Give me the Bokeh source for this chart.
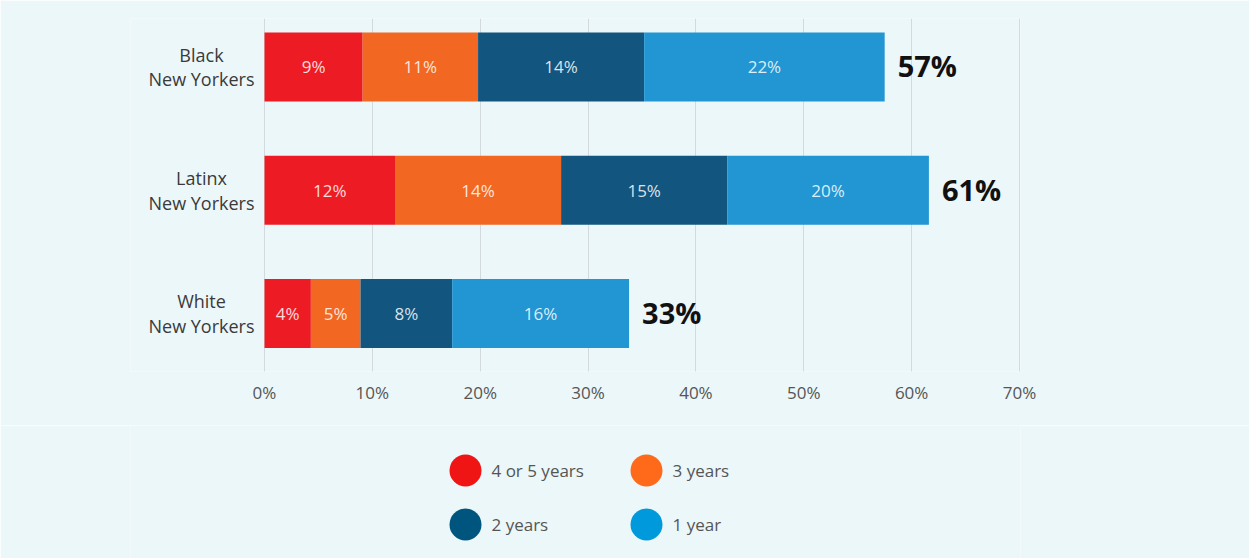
import numpy as np
from bokeh.plotting import figure
from bokeh.layouts import column
from bokeh.models import ColumnDataSource, LabelSet, Range1d, FixedTicker
from bokeh.core.properties import value
from bokeh.embed import file_html
from bokeh.resources import INLINE

# ---------------- data ----------------
groups = ["Black\nNew Yorkers", "Latinx\nNew Yorkers", "White\nNew Yorkers"]
series = ["4 or 5 years", "3 years", "2 years", "1 year"]
four_or_five_years = [9.1, 12.1, 4.3]
three_years = [10.7, 15.4, 4.6]
two_years = [15.4, 15.4, 8.5]
one_year = [22.3, 18.7, 16.4]
labels_four_or_five = ["9%", "12%", "4%"]
labels_three = ["11%", "14%", "5%"]
labels_two = ["14%", "15%", "8%"]
labels_one = ["22%", "20%", "16%"]
totals = ["57%", "61%", "33%"]
x_ticks = [0, 10, 20, 30, 40, 50, 60, 70]
x_tick_labels = ["0%", "10%", "20%", "30%", "40%", "50%", "60%", "70%"]

bar_colors = ["#ED1C24", "#F26722", "#12567F", "#2196D3"]
legend_colors = ["#F01515", "#FF6A1A", "#00557F", "#0099DC"]
BG = "#ECF7F9"
FONT = "Open Sans"

# ---------------- main chart ----------------
n = len(groups)
ypos = [n - 1 - i for i in range(n)]
keys = ["s0", "s1", "s2", "s3"]
vals = [four_or_five_years, three_years, two_years, one_year]
src = ColumnDataSource(dict(y=ypos, s0=vals[0], s1=vals[1], s2=vals[2], s3=vals[3]))

PX = 755 / 70.0          # pixels per percentage point
LEFT, RIGHT = 130, 229   # borders; frame includes room for category labels
x0 = -(264 - LEFT) / PX
x1 = x0 + (1249 - LEFT - RIGHT) / PX

p = figure(width=1249, height=425, output_backend="svg", toolbar_location=None,
           x_range=Range1d(x0, x1), y_range=Range1d(-0.4706, 2.393),
           min_border_left=LEFT, min_border_right=RIGHT, min_border_top=18, min_border_bottom=54)
p.background_fill_color = BG
p.border_fill_color = BG
p.outline_line_color = None

p.hbar_stack(keys, y="y", height=0.56, color=bar_colors, source=src, line_width=0)

# segment labels
arr = np.array(vals)  # series x groups
cum = np.cumsum(arr, axis=0)
centers = cum - arr / 2.0
seg_text = [labels_four_or_five, labels_three, labels_two, labels_one]
sx, sy, st = [], [], []
for s in range(len(series)):
    for g in range(n):
        sx.append(float(centers[s, g]))
        sy.append(ypos[g])
        st.append(seg_text[s][g])
p.add_layout(LabelSet(x="x", y="y", text="t", source=ColumnDataSource(dict(x=sx, y=sy, t=st)),
                      text_align="center", text_baseline="middle", text_color="white",
                      text_alpha=0.85, text_font=value(FONT), text_font_size="17px"))

# totals
tot_src = ColumnDataSource(dict(x=[float(v) for v in cum[-1]], y=ypos, t=totals))
p.add_layout(LabelSet(x="x", y="y", text="t", source=tot_src, x_offset=13, y_offset=1,
                      text_align="left", text_baseline="middle", text_color="#111111",
                      text_font=value(FONT), text_font_style="bold", text_font_size="29px"))

# category labels (centered two-line labels left of the bars)
cat_src = ColumnDataSource(dict(x=[0] * n, y=ypos, t=groups))
p.text(x="x", y="y", text="t", source=cat_src, x_offset=-63, text_align="center",
       text_baseline="middle", text_color="#3A3A3A", text_line_height=1.03,
       text_font=value(FONT), text_font_size="18px")

p.yaxis.visible = False
p.ygrid.grid_line_color = None

p.xaxis.ticker = FixedTicker(ticks=x_ticks)
p.xaxis.major_label_overrides = {t: l for t, l in zip(x_ticks, x_tick_labels)}
p.xaxis.axis_line_color = None
p.xaxis.major_tick_line_color = None
p.xaxis.minor_tick_line_color = None
p.xaxis.major_tick_out = 0
p.xaxis.major_tick_in = 0
p.xaxis.major_label_standoff = 9
p.xaxis.major_label_text_font = FONT
p.xaxis.major_label_text_font_size = "17px"
p.xaxis.major_label_text_color = "#555555"
p.xgrid.ticker = FixedTicker(ticks=x_ticks)
p.xgrid.grid_line_color = "#D3DADD"
p.xgrid.grid_line_width = 1

# ---------------- legend ----------------
lcol = [0, 1, 0, 1]
lrow = [1, 1, 0, 0]
leg_src = ColumnDataSource(dict(x=lcol, y=lrow, c=legend_colors, t=series))
COLW = 181.0
lx0 = -(465 - LEFT) / COLW
lx1 = lx0 + (1249 - LEFT - RIGHT) / COLW
lg = figure(width=1249, height=133, output_backend="svg", toolbar_location=None,
            x_range=Range1d(lx0, lx1), y_range=Range1d(-0.6296, 1.8333),
            min_border=0)
lg.background_fill_color = BG
lg.border_fill_color = BG
lg.outline_line_color = None
lg.axis.visible = False
lg.grid.grid_line_color = None
lg.scatter(x="x", y="y", size=32, color="c", line_width=0, source=leg_src)
lg.text(x="x", y="y", text="t", x_offset=26, text_align="left", text_baseline="middle",
        text_color="#555555", text_font=value(FONT), text_font_size="17px", source=leg_src)

layout = column(p, lg, spacing=0)
open("out.html", "w").write(file_html(layout, INLINE))
